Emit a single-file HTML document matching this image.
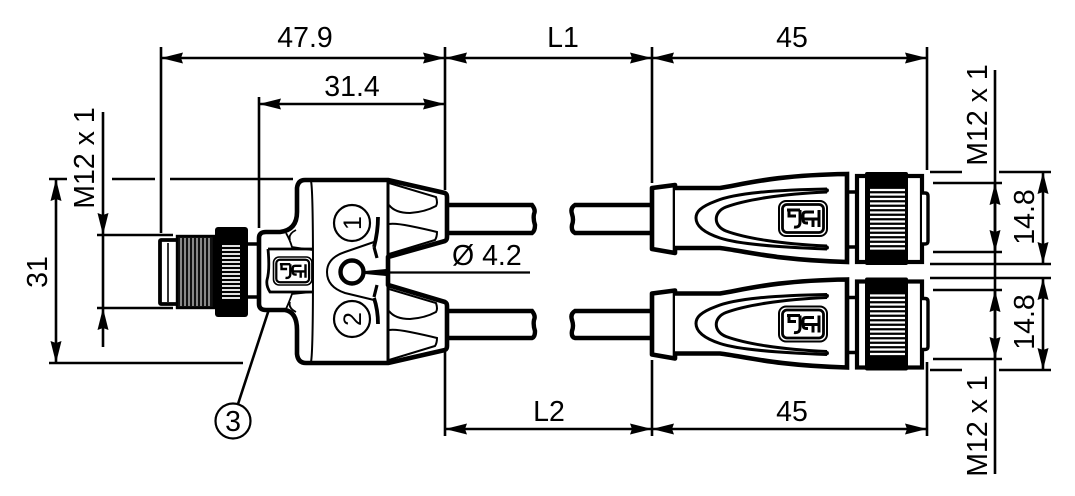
<!DOCTYPE html>
<html><head><meta charset="utf-8"><style>
html,body{margin:0;padding:0;background:#fff}
svg{display:block}
text{font-family:"Liberation Sans",sans-serif;font-size:28.5px;fill:#000}
</style></head><body>
<svg xmlns="http://www.w3.org/2000/svg" width="1075" height="496" viewBox="0 0 1075 496">
<defs>
<marker id="a" markerUnits="userSpaceOnUse" markerWidth="24" markerHeight="12" refX="22" refY="6" orient="auto-start-reverse"><path d="M0,0.500L22,6L0,11.500L2,6Z" fill="#000"/></marker>
<g id="logo" fill="none" stroke="#000">
<rect x="0" y="0" width="48" height="35" rx="7" stroke-width="2"/>
<rect x="3.500" y="3.500" width="41" height="28" rx="4.500" stroke-width="2.800"/>
<path d="M8,9H21M10,9V15H17M21,9V21Q21,27 15,26M29,22H27Q24,22 24,18V14Q24,11 27,11H35M24,18H40M34,18V26M40,9V26" stroke-width="3"/>
</g>
<g id="conn">
<path d="M652,188L675,185V253L652,249Z" fill="#fff" stroke="#000" stroke-width="4.600" stroke-linejoin="round"/>
<path d="M675,188H720C745,184 775,175 847,174V262C775,260 745,251 720,248H675" fill="#fff" stroke="#000" stroke-width="4.600"/>
<path d="M827,189C775,190 735,193 716,201C700,207 696,212 696,218C696,225 702,232 720,238C738,244 775,247 827,249" fill="none" stroke="#000" stroke-width="3"/>
<path d="M827,192C780,194 745,200 726,207C713,212 713,226 726,231C745,238 780,244 827,246" fill="none" stroke="#000" stroke-width="3"/>
<path d="M827,189Q829,190 827,192M827,246Q829,248 827,249" fill="none" stroke="#000" stroke-width="2"/>
<use href="#logo" x="779" y="201"/>
<path d="M847,192H860M847,247H860" stroke="#000" stroke-width="3.400"/>
<rect x="857" y="176" width="65" height="86" fill="#fff" stroke="#000" stroke-width="4.200"/>
<path d="M922,193H925Q928,193 928,196V241Q928,244 925,244H922" fill="#fff" stroke="#000" stroke-width="3.400"/>
<rect x="865" y="172" width="43" height="93" rx="2" fill="#000"/>
<g stroke="#fff" stroke-width="2.200">
<path d="M870,190H905M870,194.500H905M870,199H905M870,203.500H905M870,208H905M870,212.500H905M870,217H905M870,221.500H905M870,226H905M870,230.500H905M870,235H905M870,239.500H905M870,244H905M870,248.500H905"/>
</g>
</g>
</defs>
<g fill="none" stroke="#000" stroke-width="2.600">
<!-- extension lines -->
<path d="M161,47V233M445,47V190M652,47V183M927,47V170M259,97V228"/>
<path d="M49,179H67M112,179H155M170,179H293M49,363H243M97,235H173M97,308H173"/>
<path d="M445,352V436M652,360V436M927,362V436"/>
<path d="M930,172H962M999,172H1051M933,183H1002M933,252H1002M930,264H1051M930,278H1051M933,290H1002M933,359H1002M930,370H962M999,370H1051"/>
<!-- dimension lines -->
<line x1="161" y1="58" x2="445" y2="58" marker-start="url(#a)" marker-end="url(#a)"/>
<line x1="445" y1="58" x2="652" y2="58" marker-start="url(#a)" marker-end="url(#a)"/>
<line x1="652" y1="58" x2="927" y2="58" marker-start="url(#a)" marker-end="url(#a)"/>
<line x1="259" y1="104" x2="445" y2="104" marker-start="url(#a)" marker-end="url(#a)"/>
<line x1="445" y1="429" x2="652" y2="429" marker-start="url(#a)" marker-end="url(#a)"/>
<line x1="652" y1="429" x2="927" y2="429" marker-start="url(#a)" marker-end="url(#a)"/>
<line x1="56" y1="179" x2="56" y2="363" marker-start="url(#a)" marker-end="url(#a)"/>
<line x1="103" y1="112" x2="103" y2="235" marker-end="url(#a)"/>
<line x1="103" y1="347" x2="103" y2="308" marker-end="url(#a)"/>
<line x1="103" y1="235" x2="103" y2="308"/>
<line x1="995" y1="70" x2="995" y2="474"/>
<line x1="995" y1="183" x2="995" y2="252" marker-start="url(#a)" marker-end="url(#a)"/>
<line x1="995" y1="290" x2="995" y2="359" marker-start="url(#a)" marker-end="url(#a)"/>
<line x1="1043" y1="172" x2="1043" y2="264" marker-start="url(#a)" marker-end="url(#a)"/>
<line x1="1043" y1="278" x2="1043" y2="370" marker-start="url(#a)" marker-end="url(#a)"/>
<!-- leader to 3 -->
<path d="M272,300L238,404"/>
<circle cx="233" cy="421" r="17.500" stroke-width="2.200"/>
<path d="M367,272.500H530" stroke-width="2.200"/>
</g>
<!-- cables -->
<g fill="none" stroke="#000" stroke-width="4.400">
<path d="M445,205H532Q536,210 534,214Q533,219 535,225Q535,231 532,233H445"/>
<path d="M445,311H532Q536,316 534,320Q533,325 535,331Q535,337 532,338H445"/>
<path d="M652,205H575Q570,208 572,214Q574,220 572,225Q571,231 575,233H652"/>
<path d="M652,311H575Q570,314 572,320Q574,326 572,331Q571,337 575,338H652"/>
</g>
<!-- male connector -->
<g stroke="#000" fill="#fff">
<rect x="160" y="240" width="18" height="64" rx="1" stroke-width="3.800"/>
<path d="M168,243V302" stroke-width="1.600"/>
<rect x="177" y="236" width="37" height="72" fill="#111" stroke-width="2.400"/>
<g stroke="#fff" stroke-width="1"><path d="M181,238V306M185,238V306M189,238V306M193,238V306M197,238V306M201,238V306M205,238V306M209,238V306"/></g>
<rect x="215" y="227" width="33" height="90" rx="3" fill="#000" stroke="none"/>
<g stroke="#fff" stroke-width="1.800"><path d="M222,246H240M222,250H240M222,254H240M222,258H240M222,262H240M222,266H240M222,270H240M222,274H240M222,278H240M222,282H240M222,286H240M222,290H240M222,294H240M222,298H240"/></g>
<path d="M248,244H258M248,297H258" stroke-width="3.400" fill="none"/>
</g>
<!-- body -->
<path d="M305,180H388L445,193Q447,194 447,197V237Q447,240 445,241L388,257L388,285L445,302Q447,303 447,306V346Q447,349 445,350L388,363H306Q298,363 297,354V330Q297,312 285,310H266Q259,310 259,304V238Q259,232 266,232H280Q297,230 297,212V188Q298,180 305,180Z" fill="#fff" stroke="#000" stroke-width="4.600" stroke-linejoin="round"/>
<g fill="none" stroke="#000">
<path d="M311,181Q313,190 313,270Q313,352 311,362" stroke-width="2"/>
<path d="M388,181V257M388,285V362" stroke-width="3"/>
<path d="M389,205Q395,213 410,213Q425,212 436,206Q438,203 436,197L389,183" stroke-width="2"/>
<path d="M389,224Q395,223 410,226Q425,229 437,232Q437,237 435,240L389,254" stroke-width="2"/>
<path d="M389,311Q395,319 410,319Q425,318 436,312Q438,309 436,303L389,289" stroke-width="2"/>
<path d="M389,330Q395,329 410,332Q425,335 437,338Q437,343 435,346L389,360" stroke-width="2"/>
<path d="M378,217Q378,232 374,247M374,298Q378,310 378,324" stroke-width="3.800"/>
<path d="M374,242L345,252Q327,258 327,272Q327,287 345,293L374,300" stroke-width="2"/>
<path d="M374,247L377,258M374,297L377,285" stroke-width="3.200"/>
<path d="M268,249H312M268,249Q270,270 267,280Q266,286 270,292H312" stroke-width="2.800"/>
<path d="M286,233Q290,240 292,247L312,250M286,309Q290,300 292,294L312,292M296,230Q288,234 290,240M296,312Q288,308 290,302" stroke-width="1.800"/>
<circle cx="352" cy="272" r="11.500" stroke-width="4.400"/>
<circle cx="352" cy="223" r="18" stroke-width="2.200"/>
<circle cx="352" cy="319" r="18" stroke-width="2.200"/>
</g>
<path d="M365,271L386,269V276L365,274Z" fill="#000"/>
<g transform="translate(273.500,257) scale(.8)"><use href="#logo"/></g>
<use href="#conn"/>
<use href="#conn" y="105.500"/>
<!-- text -->
<text x="305" y="47" text-anchor="middle">47.9</text>
<text x="563" y="47" text-anchor="middle">L1</text>
<text x="792" y="47" text-anchor="middle">45</text>
<text x="352" y="96" text-anchor="middle">31.4</text>
<text x="549" y="421" text-anchor="middle">L2</text>
<text x="792" y="421" text-anchor="middle">45</text>
<text x="452" y="265">Ø 4.2</text>
<text x="233" y="431" text-anchor="middle">3</text>
<text transform="translate(47,272) rotate(-90)" text-anchor="middle">31</text>
<text transform="translate(94,158) rotate(-90)" text-anchor="middle">M12 x 1</text>
<text transform="translate(987,115) rotate(-90)" text-anchor="middle">M12 x 1</text>
<text transform="translate(987,426) rotate(-90)" text-anchor="middle">M12 x 1</text>
<text transform="translate(1034,217) rotate(-90)" text-anchor="middle">14.8</text>
<text transform="translate(1034,322) rotate(-90)" text-anchor="middle">14.8</text>
<text transform="translate(361,223) rotate(-90)" text-anchor="middle" style="font-size:25px">1</text>
<text transform="translate(361,319) rotate(-90)" text-anchor="middle" style="font-size:25px">2</text>
</svg>
</body></html>
